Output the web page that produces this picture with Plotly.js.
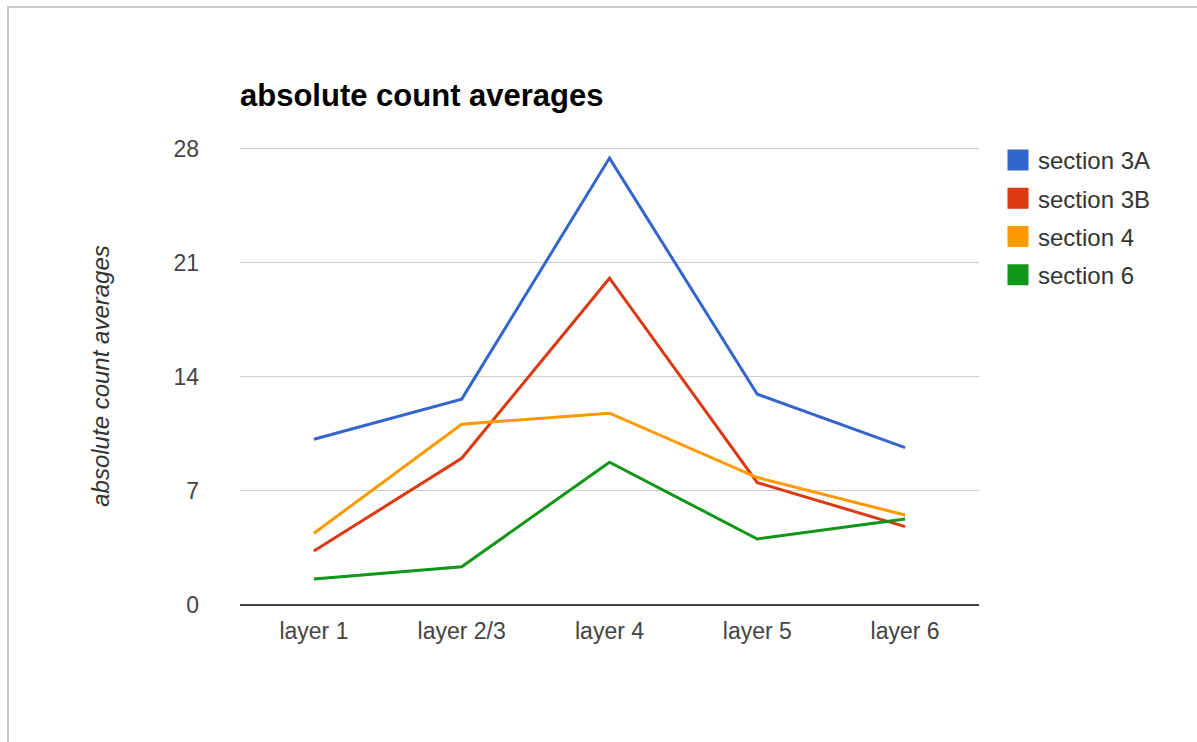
<!DOCTYPE html>
<html>
<head>
<meta charset="utf-8">
<script src="https://cdn.plot.ly/plotly-3.0.1.min.js"></script>
<style>
  html, body { margin: 0; padding: 0; background: #fff; }
  #chart { width: 1197px; height: 742px; }
</style>
</head>
<body>
<div id="chart"></div>
<script>
const categories = ["layer 1", "layer 2/3", "layer 4", "layer 5", "layer 6"];
const seriesNames = ["section 3A", "section 3B", "section 4", "section 6"];
const section3A = [10.17, 12.63, 27.42, 12.93, 9.66];
const section3B = [3.31, 9.0, 20.05, 7.51, 4.81];
const section4 = [4.40, 11.09, 11.77, 7.82, 5.52];
const section6 = [1.60, 2.35, 8.76, 4.05, 5.28];
const yTicks = [0, 7, 14, 21, 28];
const colors = ["#3366cc", "#dc3912", "#ff9900", "#109618"];

const seriesValues = [section3A, section3B, section4, section6];

const traces = [];
seriesValues.forEach((vals, i) => {
  traces.push({
    type: "scatter",
    mode: "lines",
    x: categories,
    y: vals,
    name: seriesNames[i],
    legendgroup: seriesNames[i],
    showlegend: false,
    line: { color: colors[i], width: 3 },
    hoverinfo: "x+y+name"
  });
});
// legend swatches (square markers, no data)
seriesValues.forEach((vals, i) => {
  traces.push({
    type: "scatter",
    mode: "markers",
    x: [null],
    y: [null],
    name: seriesNames[i],
    legendgroup: seriesNames[i],
    showlegend: true,
    marker: { symbol: "square", size: 18, color: colors[i], line: { color: colors[i], width: 5 } },
    hoverinfo: "skip"
  });
});

const L = 240, R = 218, T = 147, B = 137;
const W = 1197, H = 742;
const pw = W - L - R, ph = H - T - B;

const layout = {
  width: W,
  height: H,
  margin: { l: L, r: R, t: T, b: B, pad: 0 },
  paper_bgcolor: "#ffffff",
  plot_bgcolor: "#ffffff",
  font: { family: "Liberation Sans, Arial, sans-serif", color: "#444444" },
  title: {
    text: "absolute count averages",
    font: { family: "Liberation Sans, Arial, sans-serif", size: 31, weight: "bold", color: "#000000" },
    x: 0, xref: "paper", xanchor: "left",
    y: 1 - 95 / H, yref: "container", yanchor: "middle"
  },
  xaxis: {
    type: "category",
    range: [-0.5, 4.5],
    showgrid: false,
    zeroline: false,
    showline: false,
    ticks: "",
    ticklabelstandoff: 10,
    tickfont: { size: 23, color: "#444444" },
    fixedrange: true
  },
  yaxis: {
    range: [0, 28.1],
    tickvals: yTicks,
    ticktext: yTicks.map(String),
    showgrid: true,
    gridcolor: "#cccccc",
    gridwidth: 1,
    zeroline: true,
    zerolinecolor: "#444444",
    zerolinewidth: 2,
    showline: false,
    ticks: "",
    ticklabelstandoff: 40,
    tickfont: { size: 23, color: "#444444" },
    title: {
      text: "absolute count averages",
      font: { size: 24, style: "italic", color: "#333333" },
      standoff: 57
    },
    fixedrange: true
  },
  legend: {
    x: (998 - L) / pw,
    xanchor: "left",
    y: 1 + (T - 138) / ph,
    yanchor: "top",
    font: { size: 24, color: "#333333" },
    bgcolor: "rgba(0,0,0,0)",
    tracegroupgap: 4,
    itemclick: false,
    itemdoubleclick: false
  },
  shapes: [{
    type: "rect",
    xref: "paper", yref: "paper",
    x0: (8 - L) / pw, x1: (W + 10 - L) / pw,
    y0: -(H + 10 - T - ph) / ph, y1: 1 + (T - 7) / ph,
    line: { color: "#c8c8c8", width: 2 },
    fillcolor: "rgba(0,0,0,0)",
    layer: "below"
  }],
  showlegend: true
};

Plotly.newPlot("chart", traces, layout, { displayModeBar: false, staticPlot: false });
</script>
</body>
</html>
